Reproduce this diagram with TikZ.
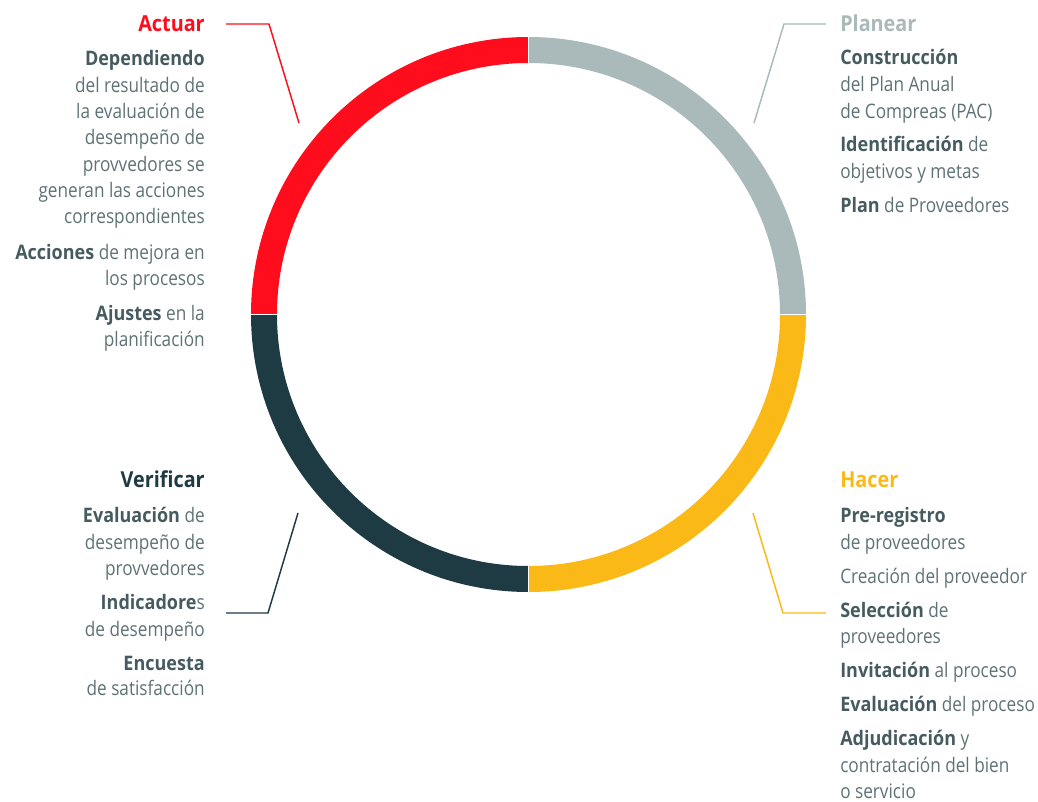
\documentclass[tikz,border=0pt]{standalone}
\usepackage{fontspec}
\setmainfont[FakeStretch=0.86,BoldFont={Open Sans Bold},BoldFeatures={FakeStretch=0.9}]{Open Sans}
\definecolor{cred}{HTML}{FF0D1C}
\definecolor{cgrey}{HTML}{AAB9BA}
\definecolor{cyel}{HTML}{FBB917}
\definecolor{cdark}{HTML}{1E3A42}
\definecolor{ctxt}{HTML}{5E7276}
\definecolor{cbold}{HTML}{465B60}
\newcommand{\bb}[1]{{\bfseries\color{cbold}#1}}
\begin{document}
\begin{tikzpicture}[x=0.75pt,y=-0.75pt,
  txt/.style={inner sep=0pt,text=ctxt,font=\fontsize{15}{18}\selectfont},
  lft/.style={txt,anchor=base east},
  rgt/.style={txt,anchor=base west},
  head/.style={inner sep=0pt,font=\fontsize{16.5}{19}\selectfont\bfseries},
  leader/.style={line width=1.1pt,line join=miter}]
\useasboundingbox (0,0) rectangle (1038,802);
% ring
\begin{scope}[shift={(528.5,314.5)},x=0.75pt,y=0.75pt]
  \fill[cgrey] (0:277.5) arc[start angle=0,end angle=90,radius=277.5] -- (90:251.5) arc[start angle=90,end angle=0,radius=251.5] -- cycle;
  \fill[cred] (90:277.5) arc[start angle=90,end angle=180,radius=277.5] -- (180:251.5) arc[start angle=180,end angle=90,radius=251.5] -- cycle;
  \fill[cdark] (180:277.5) arc[start angle=180,end angle=270,radius=277.5] -- (270:251.5) arc[start angle=270,end angle=180,radius=251.5] -- cycle;
  \fill[cyel] (270:277.5) arc[start angle=270,end angle=360,radius=277.5] -- (0:251.5) arc[start angle=360,end angle=270,radius=251.5] -- cycle;
  \draw[white,line width=0.9pt] (0:250)--(0:280) (90:250)--(90:280) (180:250)--(180:280) (270:250)--(270:280);
\end{scope}
% headings
\node[head,anchor=base east,text=cred] (actuar) at (205,32) {Actuar};
\node[head,anchor=base west,text=cgrey] (planear) at (840,32) {Planear};
\node[head,anchor=base east,text=cdark] (verificar) at (205,487) {Verificar};
\node[head,anchor=base west,text=cyel] (hacer) at (840,487) {Hacer};
% leader lines
\coordinate (a0) at (226,24); \coordinate (a1) at (269,24); \coordinate (a2) at (299,123);
\coordinate (p0) at (826,24); \coordinate (p1) at (784,24); \coordinate (p2) at (754,123);
\coordinate (v0) at (226,613); \coordinate (v1) at (268,613); \coordinate (v2) at (298,513);
\coordinate (h0) at (826,613); \coordinate (h1) at (783,613); \coordinate (h2) at (753,513);
\draw[leader,cred] (a0) -- (a1) -- (a2);
\draw[leader,cgrey] (p0) -- (p1) -- (p2);
\draw[leader,cdark] (v0) -- (v1) -- (v2);
\draw[leader,cyel] (h0) -- (h1) -- (h2);
% Actuar text
\foreach \yy/\tt [count=\i] in {66/{\bb{Dependiendo}},93/{del resultado de},119/{la evaluación de},145/{desempeño de},172/{provvedores se},198/{generan las acciones},224/{correspondientes},259/{\bb{Acciones} de mejora en},286/{los procesos},320/{\bb{Ajustes} en la},346/{planificación}}
  \node[lft] (act\i) at (205,\yy) {\tt};
% Verificar text
\foreach \yy/\tt [count=\i] in {522/{\bb{Evaluación} de},549/{desempeño de},575/{provvedores},609/{\bb{Indicadore}s},636/{de desempeño},670/{\bb{Encuesta}},695/{de satisfacción}}
  \node[lft] (ver\i) at (205,\yy) {\tt};
% Planear text
\foreach \yy/\tt [count=\i] in {65/{\bb{Construcción}},92/{del Plan Anual},119/{de Compreas (PAC)},152/{\bb{Identificación} de},179/{objetivos y metas},213/{\bb{Plan} de Proveedores}}
  \node[rgt] (pla\i) at (840,\yy) {\tt};
% Hacer text
\foreach \yy/\tt [count=\i] in {522/{\bb{Pre-registro}},549/{de proveedores},583/{Creación del proveedor},617/{\bb{Selección} de},643/{proveedores},677/{\bb{Invitación} al proceso},711/{\bb{Evaluación} del proceso},745/{\bb{Adjudicación} y},772/{contratación del bien},798/{o servicio}}
  \node[rgt] (hac\i) at (840,\yy) {\tt};
\end{tikzpicture}
\end{document}
